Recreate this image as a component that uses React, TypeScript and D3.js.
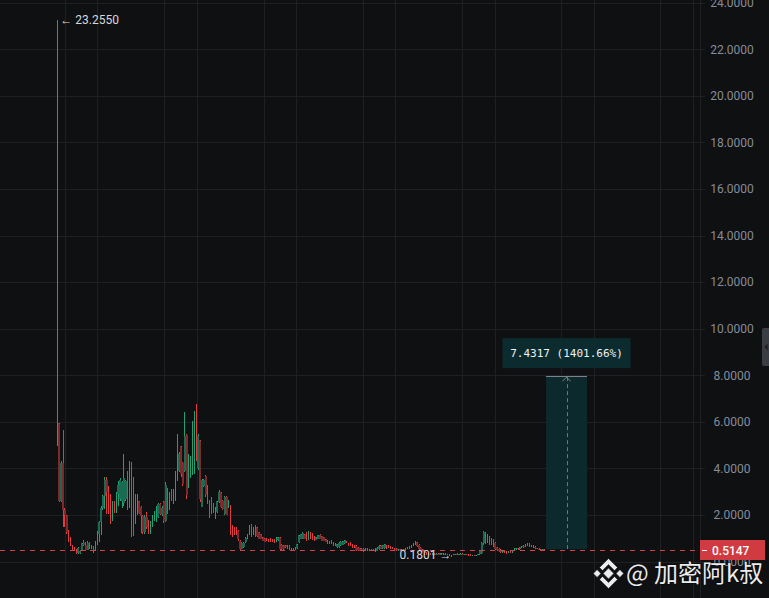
import React from "react";
import * as d3 from "d3";

type OHLC = [number, number, number, number]; // open, high, low, close

// weekly candles
const listingWeeks: OHLC[] = [
  [5.0, 23.255, 4.95, 5.9], [5.94, 5.96, 2.55, 2.6], [2.6, 4.3, 2.55, 4.25], [4.25, 5.67, 1.47, 2.2],
  [2.2, 2.28, 1.5, 1.98], [1.98, 2.0, 1.2, 1.25], [1.25, 1.37, 0.83, 0.86], [0.86, 1.07, 0.66, 0.7],
  [0.7, 0.72, 0.47, 0.5], [0.5, 0.62, 0.45, 0.48], [0.48, 0.55, 0.33, 0.38], [0.38, 0.64, 0.33, 0.6],
  [0.38, 0.5, 0.33, 0.47], [0.47, 0.8, 0.45, 0.78], [0.78, 0.94, 0.66, 0.7], [0.7, 0.82, 0.47, 0.5],
  [0.5, 0.86, 0.48, 0.8], [0.8, 0.82, 0.54, 0.56], [0.56, 0.69, 0.52, 0.66], [0.66, 0.68, 0.36, 0.45],
  [0.45, 0.86, 0.43, 0.8], [0.8, 1.33, 0.69, 1.2],
];

const firstRally: OHLC[] = [
  [1.2, 1.76, 0.83, 1.7], [1.7, 2.4, 1.12, 2.3], [2.3, 2.85, 2.2, 2.8], [2.8, 3.65, 2.26, 3.5],
  [3.5, 3.62, 2.05, 3.0], [3.0, 3.26, 2.05, 2.2], [2.88, 2.9, 1.6, 1.75], [1.75, 2.62, 1.73, 2.5],
  [2.5, 2.6, 2.1, 2.2], [2.2, 3.0, 2.1, 2.9], [2.9, 3.45, 2.4, 3.3], [2.7, 3.6, 2.6, 3.5],
  [2.6, 3.45, 2.3, 3.4], [2.5, 4.62, 2.4, 3.6], [2.7, 3.5, 2.6, 3.45], [3.55, 3.9, 2.2, 2.35],
  [2.35, 4.3, 2.3, 4.25], [4.25, 4.27, 1.07, 3.0], [3.0, 3.62, 1.1, 1.65], [1.65, 2.88, 1.6, 2.5],
  [2.5, 2.9, 2.0, 2.6], [2.6, 2.62, 2.05, 2.1], [2.36, 2.4, 1.22, 1.95], [1.95, 1.98, 1.18, 1.25],
  [1.25, 2.0, 1.2, 1.9], [1.9, 2.12, 1.4, 1.5], [1.5, 1.78, 1.18, 1.22], [1.22, 1.76, 1.2, 1.7],
  [1.55, 2.0, 1.5, 1.95], [1.95, 2.15, 1.75, 2.1], [1.76, 2.4, 1.7, 2.35], [1.9, 2.5, 1.88, 2.45],
];

const secondRally: OHLC[] = [
  [2.45, 2.5, 1.98, 2.05], [2.05, 2.4, 1.95, 2.3], [2.6, 2.62, 1.65, 1.75], [1.75, 3.4, 1.7, 3.3],
  [3.12, 3.15, 2.05, 2.15], [2.26, 2.98, 2.2, 2.9], [3.08, 3.1, 2.6, 2.65], [2.5, 3.12, 2.48, 3.05],
  [2.65, 3.9, 2.6, 3.8], [3.5, 5.48, 3.45, 5.2], [3.9, 4.7, 3.85, 4.6], [4.95, 4.98, 3.65, 3.75],
  [4.25, 4.27, 3.25, 3.35], [3.9, 6.41, 3.85, 5.4], [5.45, 5.48, 2.69, 2.85], [3.2, 4.62, 3.15, 4.5],
  [3.7, 4.55, 3.6, 4.4], [3.76, 6.05, 3.7, 5.9], [3.8, 6.45, 3.75, 6.3], [6.3, 6.77, 4.3, 4.4],
  [4.0, 5.48, 3.95, 5.4], [5.2, 5.22, 2.55, 2.7], [2.35, 3.55, 2.33, 3.5], [3.26, 3.55, 3.2, 3.5],
  [3.69, 3.72, 2.76, 2.85], [3.26, 3.28, 2.48, 2.55], [2.62, 2.65, 1.86, 1.95], [2.73, 2.75, 2.05, 2.1],
  [2.45, 2.5, 2.1, 2.15], [1.85, 2.33, 1.83, 2.3], [2.12, 2.62, 2.1, 2.58], [2.55, 3.05, 2.5, 3.0],
  [2.98, 3.0, 2.3, 2.35], [2.62, 2.64, 2.2, 2.25], [2.05, 2.8, 2.0, 2.75], [2.77, 2.8, 1.98, 2.0],
  [2.3, 2.65, 2.28, 2.6],
];

const bearDrift: OHLC[] = [
  [2.4, 2.42, 1.12, 1.2], [1.55, 1.57, 1.04, 1.1], [1.45, 1.47, 1.12, 1.15], [1.47, 1.49, 1.12, 1.15],
  [1.33, 1.35, 0.9, 0.95], [0.9, 0.92, 0.5, 0.55], [0.55, 0.83, 0.52, 0.78], [0.62, 0.83, 0.6, 0.8],
  [0.83, 1.04, 0.8, 1.0], [1.0, 1.19, 0.95, 1.15], [1.19, 1.55, 1.15, 1.5], [1.57, 1.6, 1.04, 1.1],
  [1.19, 1.47, 1.15, 1.45], [1.55, 1.57, 1.04, 1.1], [1.47, 1.5, 1.04, 1.08], [1.26, 1.28, 0.95, 0.97],
  [1.19, 1.2, 0.95, 0.98], [1.04, 1.06, 0.88, 0.9], [1.0, 1.02, 0.82, 0.84], [0.99, 1.0, 0.88, 0.9],
  [0.97, 0.98, 0.82, 0.83], [0.97, 0.99, 0.85, 0.87], [0.94, 0.96, 0.82, 0.83], [0.94, 0.95, 0.8, 0.83],
  [0.86, 1.04, 0.85, 1.02], [0.93, 1.07, 0.9, 1.05], [1.04, 1.06, 0.45, 0.52], [0.72, 0.74, 0.5, 0.52],
  [0.69, 0.7, 0.48, 0.52], [0.69, 0.7, 0.6, 0.62], [0.69, 0.7, 0.53, 0.55], [0.69, 0.7, 0.5, 0.52],
  [0.57, 0.58, 0.48, 0.52], [0.55, 0.56, 0.45, 0.5], [0.5, 0.62, 0.48, 0.58], [0.57, 0.76, 0.55, 0.74],
  [0.83, 1.15, 0.8, 1.12], [0.97, 1.2, 0.95, 1.17], [0.97, 1.26, 0.95, 1.24], [1.19, 1.2, 0.96, 0.98],
  [1.26, 1.27, 0.88, 0.9], [0.94, 1.29, 0.92, 1.27], [1.26, 1.27, 0.96, 0.98], [1.23, 1.24, 0.93, 0.95],
  [1.09, 1.1, 0.88, 0.9], [0.94, 1.07, 0.92, 1.05], [0.97, 1.15, 0.95, 1.13], [1.15, 1.16, 0.96, 0.98],
  [1.09, 1.1, 0.88, 0.9], [1.04, 1.05, 0.88, 0.9], [0.97, 0.98, 0.82, 0.84], [0.9, 0.92, 0.75, 0.77],
  [0.77, 0.88, 0.75, 0.85], [0.9, 0.91, 0.75, 0.77], [0.83, 0.84, 0.68, 0.7], [0.8, 0.81, 0.65, 0.67],
  [0.62, 0.76, 0.6, 0.74], [0.62, 0.83, 0.6, 0.81], [0.69, 0.86, 0.67, 0.84], [0.72, 0.9, 0.7, 0.88],
  [0.79, 0.93, 0.77, 0.91], [0.86, 0.88, 0.8, 0.82], [0.8, 0.81, 0.66, 0.68], [0.8, 0.82, 0.66, 0.68],
  [0.72, 0.74, 0.6, 0.62], [0.72, 0.73, 0.57, 0.59], [0.69, 0.7, 0.47, 0.5], [0.62, 0.63, 0.47, 0.5],
  [0.57, 0.58, 0.43, 0.45], [0.55, 0.56, 0.43, 0.46], [0.43, 0.57, 0.42, 0.55], [0.47, 0.57, 0.45, 0.55],
  [0.47, 0.57, 0.46, 0.55], [0.54, 0.55, 0.47, 0.49], [0.47, 0.54, 0.46, 0.52], [0.52, 0.53, 0.46, 0.48],
  [0.43, 0.57, 0.42, 0.56], [0.47, 0.62, 0.46, 0.6], [0.52, 0.69, 0.5, 0.67], [0.69, 0.7, 0.53, 0.55],
  [0.57, 0.72, 0.55, 0.7], [0.57, 0.76, 0.55, 0.74], [0.69, 0.7, 0.52, 0.54],
];

const baseRange: OHLC[] = [
  [0.7, 0.72, 0.6, 0.62], [0.65, 0.68, 0.55, 0.57], [0.62, 0.64, 0.52, 0.54], [0.57, 0.6, 0.5, 0.52],
  [0.52, 0.56, 0.47, 0.5], [0.5, 0.55, 0.46, 0.53], [0.53, 0.55, 0.45, 0.48], [0.48, 0.54, 0.46, 0.52],
  [0.52, 0.53, 0.44, 0.47], [0.47, 0.58, 0.45, 0.56], [0.56, 0.64, 0.54, 0.62], [0.6, 0.66, 0.55, 0.58],
  [0.58, 0.7, 0.56, 0.68], [0.68, 0.8, 0.65, 0.75], [0.75, 0.86, 0.7, 0.82], [0.82, 0.84, 0.62, 0.65],
  [0.73, 0.76, 0.5, 0.52], [0.6, 0.62, 0.45, 0.48], [0.54, 0.55, 0.4, 0.42], [0.47, 0.5, 0.33, 0.36],
  [0.4, 0.42, 0.3, 0.33], [0.33, 0.38, 0.29, 0.35], [0.35, 0.37, 0.27, 0.3], [0.3, 0.36, 0.28, 0.34],
  [0.34, 0.36, 0.27, 0.29], [0.29, 0.35, 0.27, 0.33], [0.33, 0.35, 0.28, 0.3], [0.3, 0.36, 0.29, 0.35],
  [0.35, 0.37, 0.3, 0.32], [0.32, 0.36, 0.3, 0.34], [0.34, 0.35, 0.28, 0.3], [0.3, 0.34, 0.26, 0.32],
  [0.32, 0.33, 0.24, 0.26], [0.26, 0.3, 0.1801, 0.28], [0.28, 0.33, 0.26, 0.31], [0.31, 0.34, 0.29, 0.33],
  [0.33, 0.35, 0.3, 0.31], [0.31, 0.34, 0.3, 0.33], [0.33, 0.35, 0.31, 0.34], [0.34, 0.35, 0.31, 0.32],
  [0.32, 0.34, 0.3, 0.33], [0.33, 0.34, 0.29, 0.3], [0.3, 0.33, 0.27, 0.29], [0.29, 0.31, 0.25, 0.27],
  [0.27, 0.3, 0.25, 0.29], [0.29, 0.3, 0.24, 0.26], [0.26, 0.3, 0.24, 0.29], [0.29, 0.33, 0.27, 0.31],
  [0.31, 0.5, 0.3, 0.48], [0.35, 0.83, 0.33, 0.8], [0.8, 1.33, 0.7, 1.25], [1.1, 1.26, 0.76, 0.85],
  [0.85, 1.19, 0.8, 1.1], [1.07, 1.09, 0.72, 0.75], [0.97, 1.0, 0.69, 0.72], [0.9, 0.97, 0.62, 0.65],
  [0.8, 0.83, 0.5, 0.55], [0.62, 0.64, 0.44, 0.48], [0.55, 0.57, 0.42, 0.45], [0.5, 0.52, 0.38, 0.4],
  [0.44, 0.5, 0.38, 0.47], [0.47, 0.49, 0.36, 0.38], [0.4, 0.44, 0.34, 0.37], [0.37, 0.46, 0.36, 0.44],
  [0.44, 0.47, 0.36, 0.38], [0.38, 0.5, 0.37, 0.48], [0.48, 0.56, 0.45, 0.54], [0.54, 0.6, 0.5, 0.58],
  [0.58, 0.6, 0.5, 0.53], [0.53, 0.64, 0.5, 0.62], [0.62, 0.68, 0.58, 0.66], [0.66, 0.7, 0.6, 0.64],
  [0.64, 0.76, 0.62, 0.73], [0.73, 0.79, 0.68, 0.76], [0.76, 0.78, 0.64, 0.66], [0.66, 0.72, 0.62, 0.7],
  [0.7, 0.72, 0.6, 0.62], [0.62, 0.66, 0.55, 0.57], [0.57, 0.6, 0.52, 0.54], [0.54, 0.58, 0.5, 0.52],
  [0.52, 0.55, 0.49, 0.5], [0.5, 0.54, 0.48, 0.52], [0.53, 0.54, 0.5, 0.5147],
];

const priceTicks = [0, 2, 4, 6, 8, 10, 12, 14, 16, 18, 20, 22, 24];
// time grid (Jan / May of each year) in week-index units
const timeGridWeeks = [4, 21.1, 56.1, 73.2, 108.3, 125.4, 160.4, 177.5, 212.6, 229.7, 264.7, 281.8, 316.8, 333.9];

const lastPrice = 0.5147;
const athPrice = 23.255;
const lowPrice = 0.1801;
const lowWeek = 207;
const measureWeeks = [256.7, 278.2];
const measureFrom = 0.5302;
const measureChange = 7.4317;
const measurePct = 1401.66;

const candles: OHLC[] = [...listingWeeks, ...firstRally, ...secondRally, ...bearDrift, ...baseRange];

const W = 769;
const H = 598;
const PLOT_R = 700;
const BG = "#0f1012";
const GRID = "#1e2023";
const AXIS_TEXT = "#858c99";
const GREEN_BODY = "#1b6a52";
const GREEN_WICK = "#1fa077";
const RED_BODY = "#7e2a2d";
const RED_WICK = "#e33b42";
const FONT = "Roboto, 'Noto Sans', sans-serif";

export default function App() {
  const x = d3.scaleLinear().domain([0, 256]).range([57.3, 57.3 + 256 * 1.904]);
  const y = d3.scaleLinear().domain([0, 24]).range([561.5, 2.8]);
  const fmt = d3.format(".4f");

  const lastY = Math.round(y(lastPrice)) + 0.5;
  const mx0 = x(measureWeeks[0]);
  const mx1 = x(measureWeeks[1]);
  const mxc = (mx0 + mx1) / 2;
  const mTop = y(measureFrom + measureChange);
  const mBot = y(measureFrom);

  const athX = x(0);
  const athY = y(athPrice);
  const lowX = x(lowWeek);
  const lowY = y(lowPrice);

  return (
    <div style={{ position: "fixed", left: 0, top: 0, width: W, height: H, background: BG }}>
      <svg width={W} height={H} style={{ display: "block" }}>
        <rect x={0} y={0} width={W} height={H} fill={BG} />
        {/* grid */}
        <g shapeRendering="crispEdges">
          {priceTicks.map((t) => (
            <line key={"h" + t} x1={0} x2={705} y1={Math.round(y(t)) + 0.5} y2={Math.round(y(t)) + 0.5} stroke={GRID} />
          ))}
          {timeGridWeeks.map((g) => (
            <line key={"v" + g} x1={Math.round(x(g)) + 0.5} x2={Math.round(x(g)) + 0.5} y1={0} y2={H} stroke={GRID} />
          ))}
          <line x1={PLOT_R + 0.5} x2={PLOT_R + 0.5} y1={0} y2={H} stroke={GRID} />
        </g>

        {/* candles */}
        <g shapeRendering="crispEdges">
          {candles.map(([o, h, l, c], i) => {
            const cx = x(i);
            const up = c >= o;
            const left = Math.round(cx - 0.75);
            const right = Math.round(cx + 0.75);
            const w = Math.max(1, right - left);
            const top = Math.round(y(Math.max(o, c)));
            const bot = Math.round(y(Math.min(o, c)));
            const hy = Math.round(y(h));
            const ly = Math.round(y(l));
            const bright = up ? GREEN_WICK : RED_WICK;
            const dark = up ? GREEN_BODY : RED_BODY;
            return (
              <g key={i}>
                <rect x={left} y={top} width={w} height={Math.max(1, bot - top)} fill={w >= 2 ? dark : bright} />
                <rect x={Math.floor(cx)} y={hy} width={1} height={Math.max(1, top - hy)} fill={bright} />
                <rect x={Math.floor(cx)} y={bot} width={1} height={Math.max(0, ly - bot)} fill={bright} />
              </g>
            );
          })}
        </g>

        {/* last price line */}
        <line x1={0} x2={PLOT_R} y1={lastY} y2={lastY} stroke="#d0454a" strokeDasharray="5 5" shapeRendering="crispEdges" />

        {/* measurement tool */}
        <rect x={mx0} y={mTop} width={mx1 - mx0} height={mBot - mTop} fill="#0c2a2d" />
        <line x1={mx0} x2={mx1} y1={Math.round(mTop) + 0.5} y2={Math.round(mTop) + 0.5} stroke="#7d8288" shapeRendering="crispEdges" />
        <line x1={Math.round(mxc) + 0.5} x2={Math.round(mxc) + 0.5} y1={mTop + 1} y2={mBot} stroke="#70767c" strokeDasharray="4 3" />
        <path d={`M${mxc - 4},${mTop + 5} L${mxc},${mTop + 1} L${mxc + 4},${mTop + 5}`} fill="none" stroke="#80868c" strokeWidth={1} />
        <rect x={mxc - 64} y={mTop - 38} width={128} height={30} fill="#0c2b2e" />
        <text x={mxc} y={mTop - 19} textAnchor="middle" fill="#eef0f2" fontFamily="'DejaVu Sans Mono', monospace" fontSize={11}>
          {`${measureChange.toFixed(4)} (${measurePct.toFixed(2)}%)`}
        </text>

        {/* annotations */}
        <text x={athX + 3} y={athY + 4} fill="#d6d9de" fontFamily={FONT} fontSize={12}>
          {"← " + fmt(athPrice)}
        </text>
        <text x={lowX} y={lowY + 2} textAnchor="end" fill="#d6d9de" fontFamily={FONT} fontSize={12}>
          {fmt(lowPrice) + " →"}
        </text>

        {/* price axis */}
        <g fontFamily={FONT} fontSize={12} fill={AXIS_TEXT}>
          {priceTicks.map((t) => (
            <text key={"t" + t} x={732} y={y(t) + 4.3} textAnchor="middle">
              {fmt(t)}
            </text>
          ))}
        </g>

        {/* last price label */}
        <rect x={PLOT_R} y={lastY - 10.5} width={65} height={20} fill="#cf3b40" />
        <line x1={702} x2={707} y1={lastY} y2={lastY} stroke="#ffffff" />
        <text x={712} y={lastY + 4.5} fill="#ffffff" fontFamily={FONT} fontSize={12} fontWeight={500}>
          {fmt(lastPrice)}
        </text>

        {/* scroll tab */}
        <rect x={762} y={328} width={10} height={38} rx={2} fill="#3a3d43" />
        <path d="M764.5,347 L767.5,343.5 L767.5,350.5 Z" fill="#1b1d21" />

        {/* watermark */}
        <g transform="translate(608.5,573.5) scale(1.2)" fill="#ececec" stroke="rgba(0,0,0,0.45)" strokeWidth={0.8}>
          <rect x={-3.2} y={-3.2} width={6.4} height={6.4} transform="rotate(45)" />
          <rect x={-2.3} y={-2.3} width={4.6} height={4.6} transform="translate(-9.5,0) rotate(45)" />
          <rect x={-2.3} y={-2.3} width={4.6} height={4.6} transform="translate(9.5,0) rotate(45)" />
          <path d="M-7.5,-5 L0,-12.5 L7.5,-5 L5,-2.5 L0,-7.5 L-5,-2.5 Z" />
          <path d="M-7.5,5 L0,12.5 L7.5,5 L5,2.5 L0,7.5 L-5,2.5 Z" />
        </g>
        <text
          x={626}
          y={581.5}
          fill="#ececec"
          stroke="rgba(0,0,0,0.45)"
          strokeWidth={1.5}
          paintOrder="stroke"
          fontFamily="'Noto Sans CJK SC', 'Noto Sans', sans-serif"
          fontSize={24}
        >
          @ 加密阿k叔
        </text>
      </svg>
    </div>
  );
}
